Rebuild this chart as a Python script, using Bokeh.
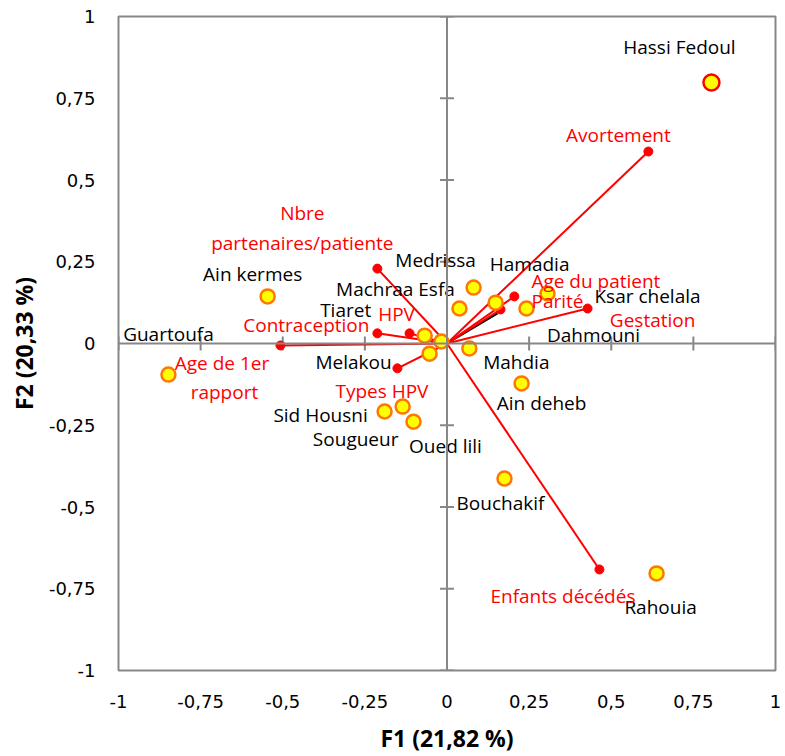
from bokeh.plotting import figure
from bokeh.models import FixedTicker, CustomJSTickFormatter, Span, ColumnDataSource
from bokeh.core.properties import value
from bokeh.embed import file_html
from bokeh.resources import INLINE

# Observations: communes projected on the first two factors
sites = ["Hassi Fedoul", "Ain kermes", "Guartoufa", "Medrissa", "Machraa Esfa",
         "Hamadia", "Ksar chelala", "Dahmouni", "Mahdia", "Ain deheb",
         "Oued lili", "Sougueur", "Sid Housni", "Bouchakif", "Rahouia",
         "Melakou", "Tiaret", ""]
site_f1 = [0.805, -0.546, -0.848, 0.081, 0.038, 0.148, 0.306, 0.242, 0.068, 0.227,
           -0.102, -0.135, -0.190, 0.175, 0.638, -0.053, -0.068, -0.017]
site_f2 = [0.798, 0.144, -0.095, 0.171, 0.107, 0.125, 0.153, 0.107, -0.015, -0.122,
           -0.239, -0.193, -0.208, -0.413, -0.703, -0.031, 0.024, 0.006]

# Active variables (loadings on F1 / F2)
variables = ["Avortement", "Nbre\npartenaires/patiente", "Age  du patient", "Parité",
             "Gestation", "Contraception", "HPV", "Age  de 1er\nrapport",
             "Types  HPV", "Enfants  décédés"]
var_f1 = [0.613, -0.212, 0.205, 0.163, 0.428, -0.212, -0.114, -0.507, -0.151, 0.464]
var_f2 = [0.587, 0.229, 0.144, 0.104, 0.107, 0.031, 0.031, -0.006, -0.076, -0.691]

# Supplementary vector (drawn in black, no label)
extra_f1 = [0.154]
extra_f2 = [0.092]

tick_values = [-1, -0.75, -0.5, -0.25, 0, 0.25, 0.5, 0.75, 1]

# Label placement (screen pixels relative to each mark)
site_dx = [-32, -15, 0, -38, -64, 34, 100, 67, 47, 20, 32, -47, -64, -4, 4, -76, -79, 0]
site_dy = [-36, -22, -41, -28, -20, -39, 3, 26, 14, 20, 24, 32, 3, 24, 34, 8, -26, 0]
var_dx = [-30, -75, 84, 57, 65, -71, -13, -56, -13, -34]
var_dy = [-17, -41, -15, -8, 11, -8, -19, 32, 23, 27]

FONT = "Open Sans"
TICK_FONT = "DejaVu Sans"
GREY = "#878787"

p = figure(width=785, height=756, x_range=(-1, 1), y_range=(-1, 1),
           output_backend="svg", toolbar_location=None,
           min_border_left=118, min_border_right=10,
           min_border_top=16, min_border_bottom=86)
p.background_fill_color = "white"
p.border_fill_color = "white"
p.outline_line_color = GREY
p.outline_line_width = 2
p.xgrid.visible = False
p.ygrid.visible = False

fmt = CustomJSTickFormatter(code="return tick.toString().replace('.', ',');")
for ax in (p.xaxis[0], p.yaxis[0]):
    ax.ticker = FixedTicker(ticks=tick_values)
    ax.formatter = fmt
    ax.axis_line_color = None
    ax.major_tick_line_color = None
    ax.minor_tick_line_color = None
    ax.major_tick_in = 0
    ax.major_tick_out = 0
    ax.major_label_text_font = TICK_FONT
    ax.major_label_text_font_size = "18px"
    ax.major_label_text_color = "black"
    ax.axis_label_text_font = FONT
    ax.axis_label_text_font_size = "23px"
    ax.axis_label_text_font_style = "bold"
    ax.axis_label_text_color = "black"

p.xaxis.axis_label = "F1 (21,82 %)"
p.yaxis.axis_label = "F2 (20,33 %)"
p.xaxis.major_label_standoff = 24
p.yaxis.major_label_standoff = 23
p.xaxis.axis_label_standoff = 11
p.yaxis.axis_label_standoff = 6

# Axes through the origin with crossing tick marks
p.add_layout(Span(location=0, dimension="width", line_color=GREY, line_width=2))
p.add_layout(Span(location=0, dimension="height", line_color=GREY, line_width=2))
inner_ticks = [t for t in tick_values if t != 0]
p.scatter(x=inner_ticks, y=[0] * len(inner_ticks), marker="dash", angle=1.5708,
          size=14, line_color=GREY, line_width=2)
p.scatter(x=[0] * len(inner_ticks), y=inner_ticks, marker="dash",
          size=14, line_color=GREY, line_width=2)

# Variable vectors
p.segment(x0=[0], y0=[0], x1=extra_f1, y1=extra_f2, line_color="black", line_width=2)
var_src = ColumnDataSource(dict(x0=[0] * len(variables), y0=[0] * len(variables),
                                x=var_f1, y=var_f2, name=variables,
                                dx=var_dx, dy=var_dy))
p.segment(x0="x0", y0="y0", x1="x", y1="y", source=var_src,
          line_color="#FF0000", line_width=2)
p.scatter(x="x", y="y", source=var_src, size=9, fill_color="#FF0000",
          line_color="#FF0000")

# Observation points
site_src = ColumnDataSource(dict(x=site_f1, y=site_f2, name=sites,
                                 dx=site_dx, dy=site_dy,
                                 edge=["#FF0000"] + ["#FF7700"] * (len(sites) - 1),
                                 sz=[16] + [14] * (len(sites) - 1)))
p.scatter(x="x", y="y", source=site_src, size="sz", fill_color="#FFFF00",
          line_color="edge", line_width=2.5)

p.text(x="x", y="y", text="name", source=site_src, x_offset="dx", y_offset="dy",
       text_font=value(FONT), text_font_size="19px", text_color="black",
       text_align="center", text_baseline="middle")
p.text(x="x", y="y", text="name", source=var_src, x_offset="dx", y_offset="dy",
       text_font=value(FONT), text_font_size="19px", text_color="#FF0000",
       text_align="center", text_baseline="middle", text_line_height=1.15)

open("out.html", "w").write(file_html(p, INLINE))
